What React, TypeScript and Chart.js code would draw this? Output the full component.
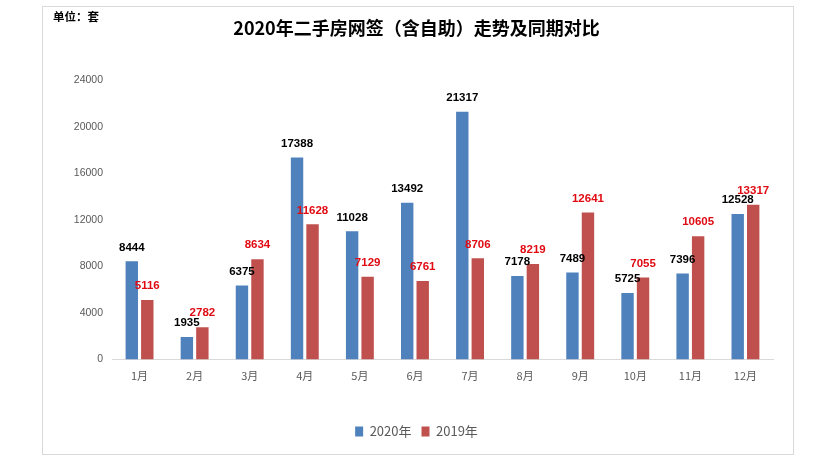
import React, { useEffect, useRef } from "react";
import { Chart, registerables } from "chart.js";

Chart.register(...registerables);

const categories = ["1月", "2月", "3月", "4月", "5月", "6月", "7月", "8月", "9月", "10月", "11月", "12月"];
const series2020 = [8444, 1935, 6375, 17388, 11028, 13492, 21317, 7178, 7489, 5725, 7396, 12528];
const series2019 = [5116, 2782, 8634, 11628, 7129, 6761, 8706, 8219, 12641, 7055, 10605, 13317];
const seriesNames = ["2020年", "2019年"];
const titleText = "2020年二手房网签（含自助）走势及同期对比";
const unitText = "单位：套";

const BLUE = "#4F81BD";
const RED = "#C0504D";
const LABEL_COLORS = ["#000000", "#E00A12"];
const FONT = '"Liberation Sans", "Noto Sans CJK SC", sans-serif';
const CJK = '"Noto Sans CJK SC", "Liberation Sans", sans-serif';

const labelPlugin = {
  id: "valueLabels",
  afterDatasetsDraw(chart: any) {
    const ctx = chart.ctx;
    ctx.save();
    ctx.font = "bold 11.5px " + FONT;
    ctx.textAlign = "center";
    ctx.textBaseline = "middle";
    chart.data.datasets.forEach((ds: any, di: number) => {
      const meta = chart.getDatasetMeta(di);
      ctx.fillStyle = LABEL_COLORS[di];
      meta.data.forEach((el: any, i: number) => {
        ctx.fillText(String(ds.data[i]), el.x, el.y - 14);
      });
    });
    ctx.restore();
  },
};

const unitPlugin = {
  id: "unitText",
  afterDraw(chart: any) {
    const ctx = chart.ctx;
    ctx.save();
    ctx.font = "bold 11.5px " + CJK;
    ctx.fillStyle = "#000";
    ctx.textAlign = "left";
    ctx.textBaseline = "middle";
    ctx.fillText(unitText, 53, 17);
    ctx.restore();
  },
};

export default function App() {
  const ref = useRef<HTMLCanvasElement | null>(null);
  useEffect(() => {
    if (!ref.current) return;
    const chart = new Chart(ref.current, {
      type: "bar",
      data: {
        labels: categories,
        datasets: [
          { label: seriesNames[0], data: series2020, backgroundColor: BLUE, categoryPercentage: 0.563, barPercentage: 0.8 },
          { label: seriesNames[1], data: series2019, backgroundColor: RED, categoryPercentage: 0.563, barPercentage: 0.8 },
        ],
      },
      options: {
        responsive: false,
        animation: false,
        layout: { padding: { left: 60, right: 42, top: 0, bottom: 24 } },
        plugins: {
          title: {
            display: true,
            text: titleText,
            color: "#000",
            font: { family: CJK, size: 18, weight: "bold" },
            padding: { top: 17, bottom: 42 },
          },
          legend: {
            display: true,
            position: "bottom",
            labels: {
              color: "#595959",
              font: { family: CJK, size: 13 },
              boxWidth: 8,
              boxHeight: 10,
              padding: 10,
            },
          },
          tooltip: { enabled: false },
        },
        scales: {
          x: {
            grid: { display: false, drawTicks: false },
            border: { display: true, color: "#d9d9d9", width: 1 },
            ticks: { color: "#595959", font: { family: CJK, size: 11 }, padding: 10 },
            afterFit: (s: any) => { s.height = 55.5; },
          },
          y: {
            min: 0,
            max: 24000,
            grid: { display: false, drawTicks: false },
            border: { display: false },
            ticks: {
              stepSize: 4000,
              color: "#595959",
              font: { family: FONT, size: 10.5 },
              padding: 9,
              callback: (v: any) => String(v),
            },
            afterFit: (s: any) => { s.width = 52; },
          },
        },
      },
      plugins: [labelPlugin, unitPlugin],
    });
    return () => chart.destroy();
  }, []);

  return (
    <div style={{ position: "fixed", left: 0, top: 0, width: 815, height: 472, background: "#fff" }}>
      <div
        style={{
          position: "absolute",
          left: 42,
          top: 6,
          width: 752,
          height: 449,
          boxSizing: "border-box",
          border: "1px solid #d9d9d9",
        }}
      />
      <canvas ref={ref} width={815} height={472} style={{ position: "absolute", left: 0, top: 0 }} />
    </div>
  );
}
